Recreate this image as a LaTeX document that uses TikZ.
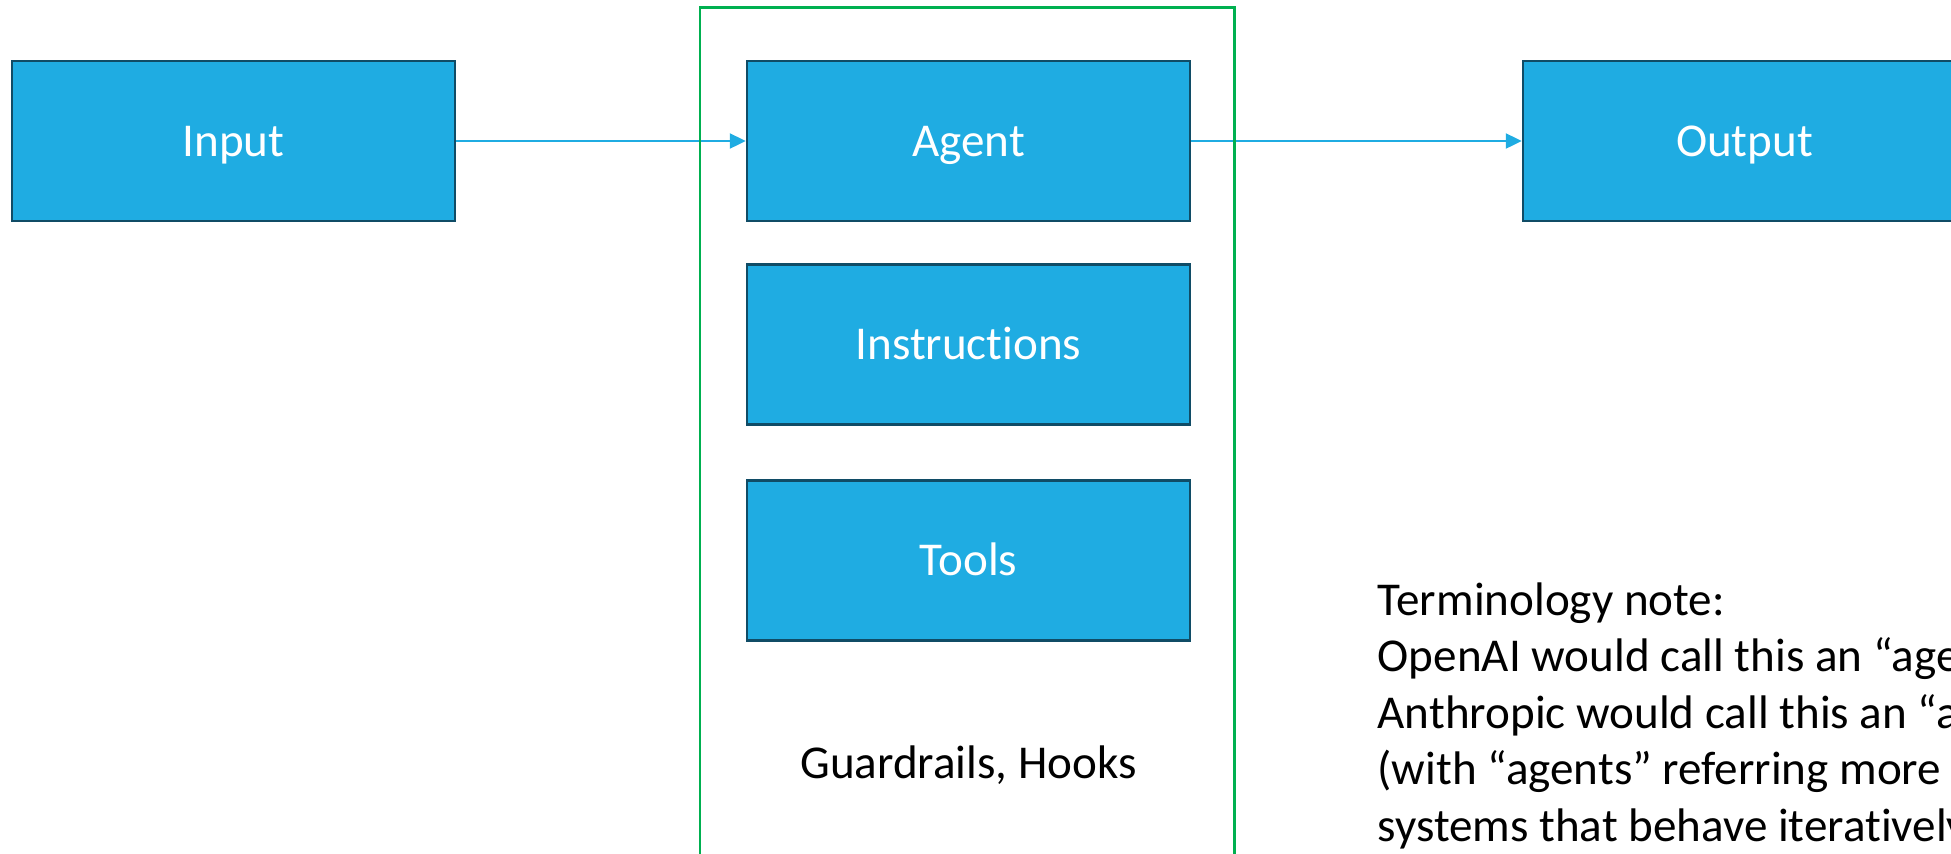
\documentclass[tikz,border=0pt]{standalone}
\usepackage{fontspec}
\setmainfont{Carlito}[Ligatures={NoCommon}]
\usetikzlibrary{arrows.meta}
\definecolor{boxblue}{RGB}{31,172,226}
\definecolor{boxedge}{RGB}{16,76,102}
\definecolor{framegreen}{RGB}{0,176,80}
\tikzset{
  block/.style={draw=boxedge,line width=0.7pt,fill=boxblue,text=white,
    minimum width=4.43cm,minimum height=1.6cm,inner sep=0pt,
    text height=0.3cm,text depth=0cm},
  flow/.style={draw=boxblue,line width=0.65pt,-{Triangle[length=0.16cm,width=0.15cm]}},
}
\begin{document}
\begin{tikzpicture}[font=\fontsize{13.4pt}{16.1pt}\selectfont]
\pgfmathsetmacro{\cx}{9.685}
\pgfmathsetmacro{\ty}{7.12}
\useasboundingbox (0,0) rectangle (19.51,8.53);
\clip (0,0) rectangle (19.51,8.53);
\node[block](input) at (2.335,\ty){Input};
\node[block](agent) at (\cx,\ty){Agent};
\node[block](instructions) at (\cx,5.085){Instructions};
\node[block](tools) at (\cx,2.925){Tools};
\node[block](output) at (17.445,\ty){Output};
\node[anchor=base](hooks) at (\cx,0.75){Guardrails, Hooks};
\draw[flow](input)--(agent);
\draw[flow](agent)--(output);
% green frame round the agent, open at the bottom edge
\draw[framegreen,line width=0.7pt](7.00,-0.5) rectangle (12.345,8.455);
% note on the right, cut off by the page edge
\foreach \txt [count=\i] in {{Terminology note:},{OpenAI would call this an “age},{Anthropic would call this an “a},{(with “agents” referring more},{systems that behave iteratively}}
  \node[anchor=base west,inner sep=0pt](note-\i) at (13.77,{2.38-0.565*(\i-1)}){\txt};
\end{tikzpicture}
\end{document}
